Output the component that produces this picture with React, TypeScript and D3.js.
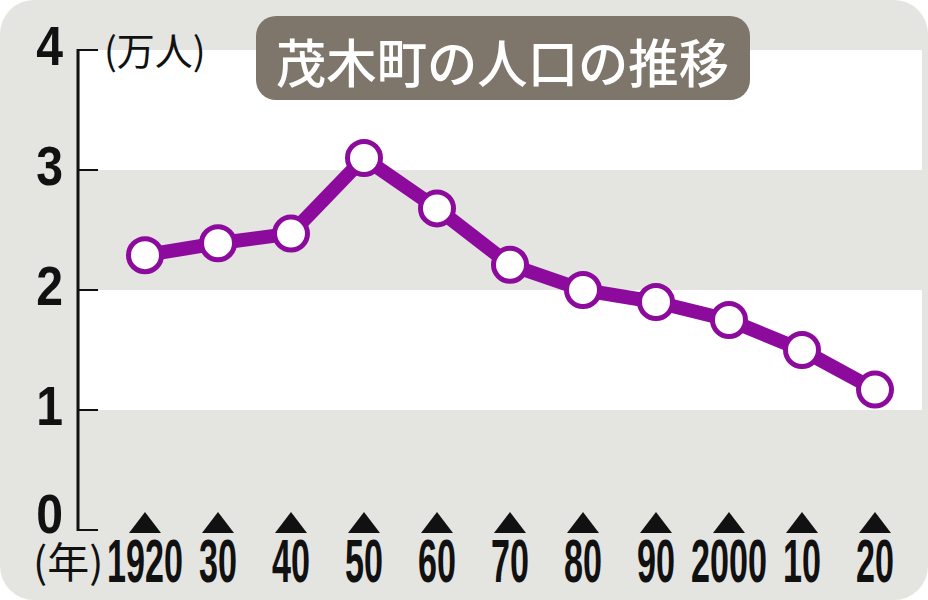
import React from "react";
import * as d3 from "d3";

const years = [1920, 1930, 1940, 1950, 1960, 1970, 1980, 1990, 2000, 2010, 2020];
const yearLabels = ["1920", "30", "40", "50", "60", "70", "80", "90", "2000", "10", "20"];
const population = [2.29, 2.39, 2.47, 3.1, 2.68, 2.21, 2.0, 1.9, 1.75, 1.5, 1.17];
const yTicks = [0, 1, 2, 3, 4];
const title = "茂木町の人口の推移";
const unitLabel = "(万人)";
const yearUnit = "(年)";

const W = 928;
const H = 600;
const PURPLE = "#8c0b9c";
const GRAY = "#e4e4e1";

export default function App() {
  const x = d3.scaleLinear().domain([1920, 2020]).range([145, 875]);
  const y = d3.scaleLinear().domain([0, 4]).range([530, 50]);
  const axisX = 78;
  const line = d3
    .line<number>()
    .x((_, i) => x(years[i]))
    .y((d) => y(d));
  const bands = [
    [3, 4],
    [1, 2],
  ];
  const tri = (cx: number) => `M${cx - 16},533 L${cx},512 L${cx + 16},533 Z`;
  const labelFont = "'Liberation Sans', Arial, sans-serif";
  const cjk = "'Noto Sans CJK JP', sans-serif";
  return (
    <svg width={W} height={H} style={{ position: "absolute", left: 0, top: 0, display: "block" }}>
      <rect x={0} y={0} width={W} height={H} fill="#ffffff" />
      <rect x={0} y={0} width={W} height={H} rx={34} ry={34} fill={GRAY} />
      {bands.map(([a, b]) => (
        <rect key={a} x={axisX + 2} y={y(b)} width={922 - axisX - 2} height={y(a) - y(b)} fill="#ffffff" />
      ))}
      {/* axis */}
      <line x1={axisX} x2={axisX} y1={y(4) - 1} y2={y(0) + 1} stroke="#111" strokeWidth={3} />
      {yTicks.map((t) => (
        <g key={t}>
          <line x1={axisX} x2={axisX + 20} y1={y(t)} y2={y(t)} stroke="#111" strokeWidth={2} />
          <text
            x={0}
            y={0}
            transform={`translate(63,${t === 0 ? y(t) + 3 : y(t) + 15}) scale(0.86,1)`}
            textAnchor="end"
            fontFamily={labelFont}
            fontWeight="bold"
            fontSize={56}
            fill="#111"
          >
            {t}
          </text>
        </g>
      ))}
      <text x={104} y={65} fontFamily={cjk} fontSize={38} fill="#111">
        {unitLabel}
      </text>
      {/* title */}
      <rect x={256} y={16} width={494} height={84} rx={20} ry={20} fill="#7f766b" />
      <text
        x={276}
        y={60}
        dominantBaseline="central"
        fontFamily={cjk}
        fontWeight={500}
        fontSize={52}
        fill="#ffffff"
        textLength={453}
        lengthAdjust="spacingAndGlyphs"
      >
        {title}
      </text>
      {/* line */}
      <path d={line(population) || ""} fill="none" stroke={PURPLE} strokeWidth={14} strokeLinejoin="round" />
      {population.map((v, i) => (
        <circle key={i} cx={x(years[i])} cy={y(v)} r={16.5} fill="#ffffff" stroke={PURPLE} strokeWidth={5} />
      ))}
      {/* x labels */}
      {years.map((yr, i) => (
        <g key={yr}>
          <path d={tri(x(yr))} fill="#111" />
          <text
            x={0}
            y={0}
            transform={`translate(${x(yr)},582) scale(0.55,1)`}
            textAnchor="middle"
            fontFamily={labelFont}
            fontWeight="bold"
            fontSize={62}
            fill="#111"
          >
            {yearLabels[i]}
          </text>
        </g>
      ))}
      <text x={33} y={578} fontFamily={cjk} fontSize={42} fill="#111">
        {yearUnit}
      </text>
    </svg>
  );
}
